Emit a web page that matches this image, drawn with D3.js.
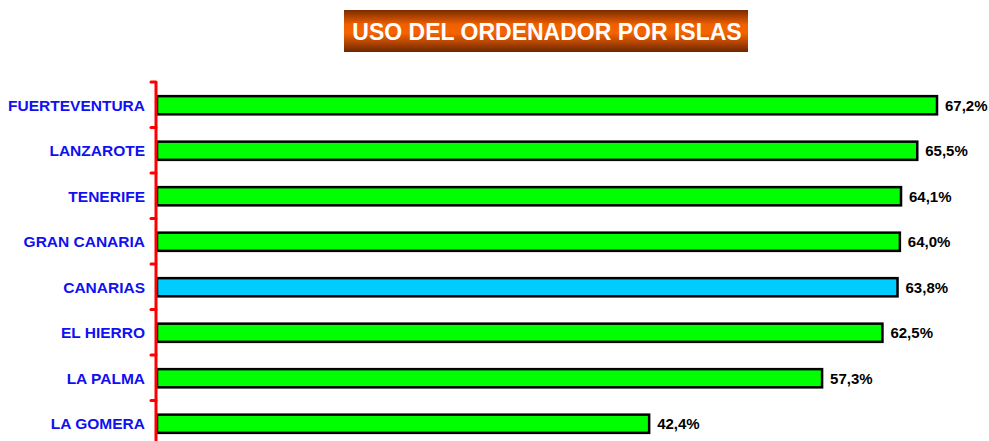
<!DOCTYPE html>
<html>
<head>
<meta charset="utf-8">
<script src="https://cdn.jsdelivr.net/npm/d3@7"></script>
<style>
  body { margin: 0; background: #fff; }
  svg { display: block; font-family: Arial, "Liberation Sans", sans-serif; }
</style>
</head>
<body>
<div id="chart"></div>
<script>
const islands = ["FUERTEVENTURA", "LANZAROTE", "TENERIFE", "GRAN CANARIA", "CANARIAS", "EL HIERRO", "LA PALMA", "LA GOMERA"];
const values = [67.2, 65.5, 64.1, 64.0, 63.8, 62.5, 57.3, 42.4];
const title = "USO DEL ORDENADOR POR ISLAS";

const width = 989;
const height = 441;
const plotLeft = 157;
const plotTop = 82;

const svg = d3.select('#chart')
  .append('svg')
  .attr('width', width)
  .attr('height', height);

const defs = svg.append('defs');
const grad = defs.append('linearGradient')
  .attr('id', 'titleGrad')
  .attr('x1', 0).attr('y1', 0).attr('x2', 0).attr('y2', 1);
grad.append('stop').attr('offset', '0%').attr('stop-color', '#7a2a00');
grad.append('stop').attr('offset', '35%').attr('stop-color', '#f06000');
grad.append('stop').attr('offset', '55%').attr('stop-color', '#f56400');
grad.append('stop').attr('offset', '100%').attr('stop-color', '#6e2600');

// title box
svg.append('rect')
  .attr('x', 344).attr('y', 10)
  .attr('width', 404).attr('height', 42)
  .attr('fill', 'url(#titleGrad)');

svg.append('text')
  .attr('x', 547).attr('y', 39.5)
  .attr('text-anchor', 'middle')
  .attr('fill', '#fff')
  .attr('font-size', 23)
  .attr('font-weight', 'bold')
  .text(title);

const xScale = d3.scaleLinear()
  .domain([0, 67.2])
  .range([plotLeft, 937]);

const yScale = d3.scaleBand()
  .domain(islands)
  .range([plotTop, plotTop + 45.5 * islands.length])
  .paddingInner(0.6)
  .paddingOuter(0.3);

const step = yScale.step();

// bars
svg.append('g')
  .selectAll('rect')
  .data(islands)
  .enter()
  .append('rect')
  .attr('x', xScale(0))
  .attr('y', (d) => yScale(d) + 0.5)
  .attr('width', (d, i) => xScale(values[i]) - xScale(0))
  .attr('height', yScale.bandwidth())
  .attr('fill', (d) => d === "CANARIAS" ? '#00ccff' : '#00ff00')
  .attr('stroke', '#000')
  .attr('stroke-width', 2.5);

// value labels
svg.append('g')
  .selectAll('text')
  .data(islands)
  .enter()
  .append('text')
  .attr('x', (d, i) => xScale(values[i]) + 8)
  .attr('y', (d) => yScale(d) + yScale.bandwidth() / 2 + 6)
  .attr('font-size', 15)
  .attr('font-weight', 'bold')
  .attr('fill', '#000')
  .text((d, i) => values[i].toFixed(1).replace('.', ',') + '%');

// category labels
svg.append('g')
  .selectAll('text')
  .data(islands)
  .enter()
  .append('text')
  .attr('x', 145)
  .attr('y', (d) => yScale(d) + yScale.bandwidth() / 2 + 6)
  .attr('text-anchor', 'end')
  .attr('font-size', 15.5)
  .attr('font-weight', 'bold')
  .attr('fill', '#1010f0')
  .text((d) => d);

// axis line with ticks at band boundaries
const axis = svg.append('g');
axis.append('line')
  .attr('x1', 156).attr('x2', 156)
  .attr('y1', plotTop).attr('y2', height)
  .attr('stroke', '#ff0000')
  .attr('stroke-width', 3);

axis.selectAll('path.tick')
  .data(islands)
  .enter()
  .append('path')
  .attr('class', 'tick')
  .attr('d', (d, i) => {
    const y = plotTop + i * step;
    return `M156,${y} L151,${y}`;
  })
  .attr('stroke', '#ff0000')
  .attr('stroke-width', 3)
  .attr('stroke-linecap', 'round')
  .attr('fill', 'none');
</script>
</body>
</html>
